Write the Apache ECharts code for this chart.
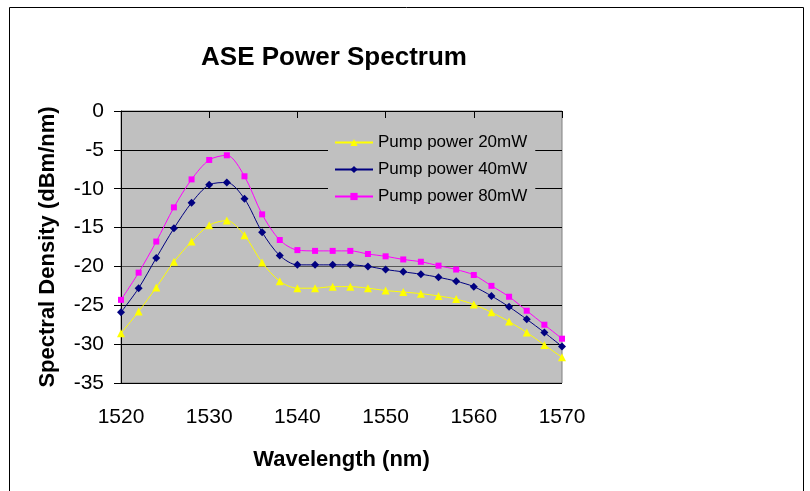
<!DOCTYPE html>
<html>
<head>
<meta charset="utf-8">
<script src="https://cdn.jsdelivr.net/npm/echarts@6/dist/echarts.min.js"></script>
<style>html,body{margin:0;padding:0;background:#fff;}#c{width:810px;height:491px;}</style>
</head>
<body>
<div id="c"></div>
<script>
var wavelengths = [1520,1522,1524,1526,1528,1530,1532,1534,1536,1538,1540,1542,1544,1546,1548,1550,1552,1554,1556,1558,1560,1562,1564,1566,1568,1570];
var pump20 = [-28.6,-25.8,-22.7,-19.4,-16.8,-14.7,-14.1,-16.0,-19.5,-21.9,-22.8,-22.8,-22.6,-22.6,-22.8,-23.1,-23.3,-23.5,-23.8,-24.2,-24.9,-25.9,-27.1,-28.5,-30.1,-31.7];
var pump40 = [-25.9,-22.8,-18.9,-15.1,-11.8,-9.5,-9.2,-11.3,-15.6,-18.6,-19.8,-19.8,-19.8,-19.8,-20.0,-20.4,-20.7,-21.0,-21.4,-21.9,-22.6,-23.8,-25.2,-26.8,-28.5,-30.3];
var pump80 = [-24.3,-20.8,-16.8,-12.4,-8.8,-6.3,-5.7,-8.4,-13.3,-16.6,-17.9,-18.0,-18.0,-18.0,-18.4,-18.7,-19.1,-19.4,-19.9,-20.4,-21.1,-22.5,-23.9,-25.7,-27.5,-29.3];
var seriesNames = ['Pump power 20mW','Pump power 40mW','Pump power 80mW'];
var xTicks = [1520,1530,1540,1550,1560,1570];
var yTicks = [-35,-30,-25,-20,-15,-10,-5,0];

function pairs(v){ return wavelengths.map(function(w,i){ return [w, v[i]]; }); }

var chart = echarts.init(document.getElementById('c'));
var font = 'Liberation Sans, Arial, sans-serif';
chart.setOption({
  animation: false,
  backgroundColor: '#ffffff',
  graphic: [{
    type: 'rect', shape: {x: 9.5, y: 7.5, width: 794, height: 500},
    style: {fill: 'none', stroke: '#000', lineWidth: 1}, silent: true, z: -1
  }, {
    type: 'text', x: 334, y: 58,
    style: {text: 'ASE Power Spectrum', fontFamily: font, fontSize: 26, fontWeight: 'bold', fill: '#000', align: 'center', verticalAlign: 'middle'},
    silent: true
  }],
  grid: {left: 121, right: 248, top: 111, bottom: 108, show: true, backgroundColor: '#C0C0C0', borderColor: '#808080', borderWidth: 1},
  legend: {
    orient: 'vertical', left: 328, top: 129, itemGap: 10, itemWidth: 38, itemHeight: 9,
    backgroundColor: '#C0C0C0', padding: [5, 8, 7, 6],
    textStyle: {fontFamily: font, fontSize: 17, color: '#000'},
    data: seriesNames
  },
  xAxis: {
    type: 'value', min: 1520, max: 1570, interval: 10,
    name: 'Wavelength (nm)', nameLocation: 'middle', nameGap: 66,
    nameTextStyle: {fontFamily: font, fontSize: 22, fontWeight: 'bold', color: '#000'},
    axisLine: {lineStyle: {color: '#000', width: 1}},
    axisTick: {show: true, length: 7, lineStyle: {color: '#000'}},
    axisLabel: {fontFamily: font, fontSize: 21, color: '#000', margin: 24, formatter: function(v){ return String(v); }},
    splitLine: {show: false}
  },
  yAxis: {
    type: 'value', min: -35, max: 0, interval: 5,
    name: 'Spectral Density (dBm/nm)', nameLocation: 'middle', nameGap: 62,
    nameTextStyle: {fontFamily: font, fontSize: 22, fontWeight: 'bold', color: '#000'},
    axisLine: {show: true, lineStyle: {color: '#000', width: 1}},
    axisTick: {show: true, length: 7, lineStyle: {color: '#000'}},
    axisLabel: {fontFamily: font, fontSize: 21, color: '#000', margin: 17},
    splitLine: {show: true, lineStyle: {color: ['#000','#000','#000','#555','#000','#000','#000','#808080'], width: 1}}
  },
  series: [
    {name: seriesNames[0], type: 'line', data: pairs(pump20), smooth: 0.3, symbol: 'triangle', symbolSize: 8,
     lineStyle: {color: '#FFFF00', width: 1}, itemStyle: {color: '#FFFF00'}},
    {name: seriesNames[1], type: 'line', data: pairs(pump40), smooth: 0.3, symbol: 'diamond', symbolSize: 8,
     lineStyle: {color: '#000080', width: 1}, itemStyle: {color: '#000080'}},
    {name: seriesNames[2], type: 'line', data: pairs(pump80), smooth: 0.3, symbol: 'rect', symbolSize: 6,
     lineStyle: {color: '#FF00FF', width: 1}, itemStyle: {color: '#FF00FF'}}
  ]
});
</script>
</body>
</html>
